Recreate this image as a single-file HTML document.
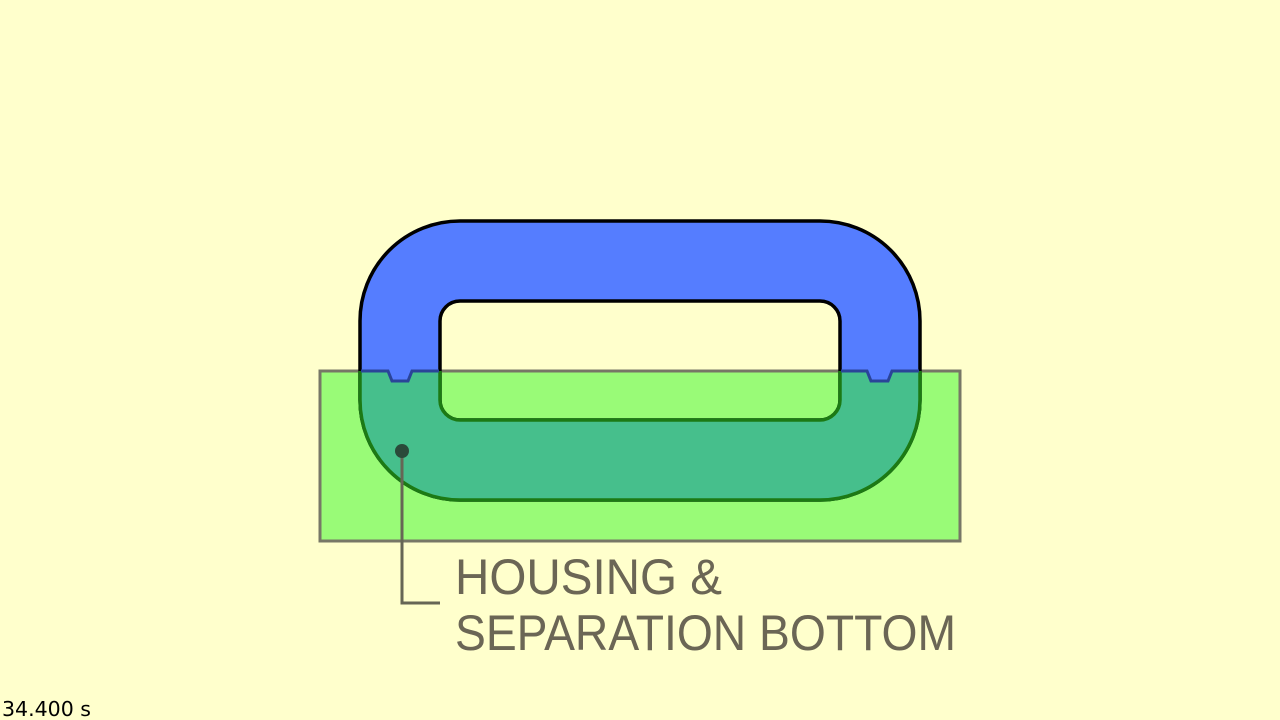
<!DOCTYPE html>
<html><head><meta charset="utf-8"><style>
html,body{margin:0;padding:0;background:#ffffcc;width:1280px;height:720px;overflow:hidden}
svg{display:block}
</style></head><body>
<svg width="1280" height="720" viewBox="0 0 1280 720">
<defs>
<clipPath id="lower"><path d="M300 371 H388 L392 381 H408 L412 371 H867 L871 381 H888 L892 371 H980 V560 H300 Z"/></clipPath>
</defs>
<rect width="1280" height="720" fill="#ffffcc"/>
<rect x="320" y="371" width="640" height="170" fill="#99fb77" stroke="#777766" stroke-width="3"/>
<path fill-rule="evenodd" fill="#557dff" stroke="#000" stroke-width="3.5"
 d="M460 221 H820 A100 100 0 0 1 920 321 V400 A100 100 0 0 1 820 500 H460 A100 100 0 0 1 360 400 V321 A100 100 0 0 1 460 221 Z
    M460 301 H820 A20 20 0 0 1 840 321 V400 A20 20 0 0 1 820 420 H460 A20 20 0 0 1 440 400 V321 A20 20 0 0 1 460 301 Z"/>
<g clip-path="url(#lower)">
<path fill-rule="evenodd" fill="#46bf8c" stroke="#1c7a14" stroke-width="3.5"
 d="M460 221 H820 A100 100 0 0 1 920 321 V400 A100 100 0 0 1 820 500 H460 A100 100 0 0 1 360 400 V321 A100 100 0 0 1 460 221 Z
    M460 301 H820 A20 20 0 0 1 840 321 V400 A20 20 0 0 1 820 420 H460 A20 20 0 0 1 440 400 V321 A20 20 0 0 1 460 301 Z"/>
</g>
<path d="M361 371 H388 L392 381 H408 L412 371 H439" fill="none" stroke="#2a4499" stroke-width="3"/>
<path d="M841 371 H867 L871 381 H888 L892 371 H919" fill="none" stroke="#2a4499" stroke-width="3"/>
<path d="M402 451 V603 H440" fill="none" stroke="#666655" stroke-width="3"/>
<circle cx="402" cy="451" r="7" fill="#2a4a3a"/>
<text x="455" y="594" font-family="Liberation Sans, DejaVu Sans, sans-serif" font-size="50" fill="#6b6655" textLength="267" lengthAdjust="spacingAndGlyphs">HOUSING &amp;</text>
<text x="455" y="650" font-family="Liberation Sans, DejaVu Sans, sans-serif" font-size="50" fill="#6b6655" textLength="501" lengthAdjust="spacingAndGlyphs">SEPARATION BOTTOM</text>
<text x="2" y="716" font-family="DejaVu Sans, Liberation Sans, sans-serif" font-size="20" fill="#000" textLength="89" lengthAdjust="spacingAndGlyphs">34.400 s</text>
</svg>
</body></html>
